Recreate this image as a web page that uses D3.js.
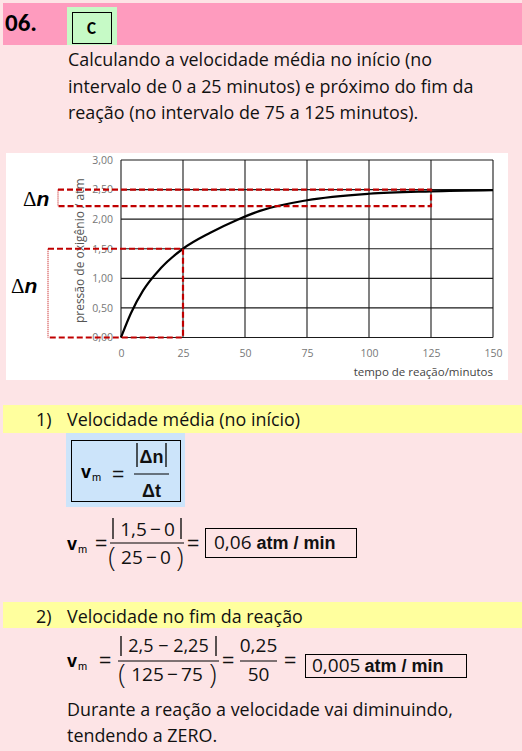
<!DOCTYPE html>
<html><head><meta charset="utf-8">
<script src="https://cdn.jsdelivr.net/npm/d3@7"></script>
<style>
html,body{margin:0;padding:0;background:#fde4e6;}
svg{display:block;}
</style></head>
<body>
<svg id="c" width="522" height="751"></svg>
<script>
// ---- data ----
const timeMinutes = [0, 4, 9, 16, 25, 36, 47, 56, 75, 100, 125, 150];
const pressureAtm = [0, 0.41, 0.80, 1.17, 1.50, 1.77, 1.99, 2.14, 2.32, 2.43, 2.47, 2.49];
const xTicks = [0, 25, 50, 75, 100, 125, 150];
const yTicks = [0, 0.5, 1.0, 1.5, 2.0, 2.5, 3.0];
const intervalStart = [0, 25];       // t range (início)
const intervalStartP = [0, 1.5];     // pressure range (início)
const intervalEnd = [75, 125];       // t range (fim)
const intervalEndP = [2.22, 2.5];    // pressure range (fim)
const introLines = ["Calculando a velocidade média no início (no",
  "intervalo de 0 a 25 minutos) e próximo do fim da",
  "reação (no intervalo de 75 a 125 minutos)."];
const closingLines = ["Durante a reação a velocidade vai diminuindo,", "tendendo a ZERO."];

const svg = d3.select("#c");
const HEAD = "Carlito, Calibri, Lato, sans-serif";
const TXT = "'Open Sans', 'Noto Sans', sans-serif";
const ARI = "'Liberation Sans', Arial, sans-serif";
const CH = "'Open Sans', 'Segoe UI', 'Noto Sans', sans-serif";
const FS = 17.9;
const T = "\u2009";

// background
svg.append("rect").attr("width",522).attr("height",751).attr("fill","#fde4e6");
// header
svg.append("rect").attr("x",3).attr("y",3).attr("width",519).attr("height",42).attr("fill","#fe9bbe");
svg.append("text").attr("x",5).attr("y",31).attr("font-family",HEAD).attr("font-weight","bold")
  .attr("font-size",25).attr("fill","#000").text("06.");
svg.append("rect").attr("x",67).attr("y",7).attr("width",50).attr("height",38).attr("fill","#c6fac6");
svg.append("rect").attr("x",72.5).attr("y",12.5).attr("width",39).attr("height",31).attr("fill","none").attr("stroke","#000").attr("stroke-width",1);
svg.append("text").attr("x",91.5).attr("y",34).attr("text-anchor","middle").attr("font-family",HEAD).attr("font-weight","bold")
  .attr("font-size",17).text("C");

// intro
svg.append("g").selectAll("text").data(introLines).join("text")
  .attr("x",68).attr("y",(d,i)=>66+i*26.5).attr("font-family",TXT).attr("font-size",FS).attr("fill","#111").text(d=>d);

// chart panel
svg.append("rect").attr("x",6).attr("y",153).attr("width",502).attr("height",227).attr("fill","#fff");

const x = d3.scaleLinear().domain([0,150]).range([121,493]);
const y = d3.scaleLinear().domain([0,3]).range([337.5,160]);
const fmt = d3.formatLocale({decimal:",",thousands:".",grouping:[3],currency:["",""]}).format(".2f");

const grid = svg.append("g").attr("stroke","#1a1a1a").attr("stroke-width",1.1);
grid.selectAll(".v").data(xTicks).join("line").attr("x1",d=>x(d)).attr("x2",d=>x(d)).attr("y1",y(3)).attr("y2",y(0));
grid.selectAll(".h").data(yTicks).join("line").attr("y1",d=>y(d)).attr("y2",d=>y(d)).attr("x1",x(0)).attr("x2",x(150));

const ax = svg.append("g").attr("transform",`translate(0,${y(0)})`)
  .call(d3.axisBottom(x).tickValues(xTicks).tickSize(0).tickPadding(12).tickFormat(d3.format("d")));
ax.select(".domain").remove();
ax.selectAll("text").attr("font-family",CH).attr("font-size",10.5).attr("fill","#777");
const ay = svg.append("g").attr("transform",`translate(${x(0)},0)`)
  .call(d3.axisLeft(y).tickValues(yTicks).tickSize(0).tickPadding(8).tickFormat(fmt));
ay.select(".domain").remove();
ay.selectAll("text").attr("font-family",CH).attr("font-size",10.5).attr("fill","#777");

svg.append("text").attr("x",493).attr("y",376).attr("text-anchor","end").attr("font-family",CH)
  .attr("font-size",11.5).attr("fill","#444").text("tempo de reação/minutos");
svg.append("text").attr("transform",`translate(84,${(y(0)+y(3))/2+2}) rotate(-90)`).attr("text-anchor","middle")
  .attr("font-family",CH).attr("font-size",12).attr("fill","#555").text("pressão de oxigênio / atm");

// curve
const pts = timeMinutes.map((t,i)=>[t,pressureAtm[i]]);
svg.append("path").datum(pts).attr("fill","none").attr("stroke","#000").attr("stroke-width",2.2)
  .attr("d",d3.line().x(d=>x(d[0])).y(d=>y(d[1])).curve(d3.curveMonotoneX));

// red brackets
const RED = "#c00000";
function bracket(tEnd, p0, p1, leftX){
  const g = svg.append("g").attr("fill","none").attr("stroke",RED);
  g.append("path").attr("stroke-width",2.2).attr("stroke-dasharray","6,3")
    .attr("d",`M${leftX},${y(p1)}H${x(tEnd)}V${y(p0)}H${leftX}`);
  g.append("line").attr("stroke-width",1).attr("stroke-dasharray","1,1")
    .attr("x1",leftX).attr("x2",leftX).attr("y1",y(p1)).attr("y2",y(p0));
}
bracket(intervalEnd[1], intervalEndP[0], intervalEndP[1], 58);
bracket(intervalStart[1], intervalStartP[0], intervalStartP[1], 48);

function deltaN(xp, yp){
  const t = svg.append("text").attr("x",xp).attr("y",yp).attr("font-size",21);
  t.append("tspan").attr("font-family","'Liberation Serif', serif").text("Δ");
  t.append("tspan").attr("font-family",ARI).attr("font-weight","bold").attr("font-style","italic").text("n");
}
deltaN(23,206);
deltaN(11,293);

// section bars
function sectionBar(yTop, h, num, label){
  svg.append("rect").attr("x",3).attr("y",yTop).attr("width",519).attr("height",h).attr("fill","#ffff9e");
  svg.append("text").attr("x",36).attr("y",yTop+21).attr("font-family",TXT).attr("font-size",FS).attr("fill","#111").text(num);
  svg.append("text").attr("x",67).attr("y",yTop+21).attr("font-family",TXT).attr("font-size",FS).attr("fill","#111").text(label);
}
sectionBar(405, 28, "1)", "Velocidade média (no início)");
sectionBar(602, 26, "2)", "Velocidade no fim da reação");

// helpers for formulas
function vm(xp, yp){
  const t = svg.append("text").attr("x",xp).attr("y",yp).attr("font-family",ARI);
  t.append("tspan").attr("font-weight","bold").attr("font-size",18).text("v");
  t.append("tspan").attr("font-size",11).attr("dy",3).attr("dx",1).text("m");
}
function txt(xp, yp, s, opt={}){
  return svg.append("text").attr("x",xp).attr("y",yp).attr("font-family",opt.f||TXT)
    .attr("font-size",opt.s||19).attr("font-weight",opt.w||"normal").attr("text-anchor",opt.a||"start").attr("fill","#111").text(s);
}
function hline(x1,x2,yy){ svg.append("line").attr("x1",x1).attr("x2",x2).attr("y1",yy).attr("y2",yy).attr("stroke","#000").attr("stroke-width",1); }
function vline(xx,y1,y2){ svg.append("line").attr("x1",xx).attr("x2",xx).attr("y1",y1).attr("y2",y2).attr("stroke","#000").attr("stroke-width",1.3); }
function box(x1,y1,w,h){ svg.append("rect").attr("x",x1+0.5).attr("y",y1+0.5).attr("width",w).attr("height",h).attr("fill","none").attr("stroke","#000").attr("stroke-width",1); }
function paren(xp, yp, s){ return txt(xp, yp, s, {f:TXT, s:27, a:"middle"}).attr("font-weight",300); }

// formula 1 (blue)
svg.append("rect").attr("x",66).attr("y",433).attr("width",119).attr("height",74).attr("fill","#cce4fa");
box(71,440,109,61);
vm(81,478);
txt(112,481,"=",{f:ARI,s:21});
hline(134,169,474);
vline(137,443,467); vline(166,443,467);
txt(151.5,463,"Δn",{f:ARI,s:18,w:"bold",a:"middle"});
txt(151.5,497,"Δt",{f:ARI,s:18,w:"bold",a:"middle"});

// formula 2
vm(67,550);
txt(95,550,"=",{f:ARI,s:21});
hline(110,184,543);
vline(113,518,539); vline(181,518,539);
txt(147.5,536,"1,5"+T+"−"+T+"0",{a:"middle"});
paren(112,567,"(");
txt(146,564,"25"+T+"−"+T+"0",{a:"middle"});
paren(180,567,")");
txt(187,550,"=",{f:ARI,s:21});
box(205,528,151,29);
const b1 = txt(214,549,"0,06",{s:19});
b1.append("tspan").attr("font-family",ARI).attr("font-weight","bold").attr("font-size",18).attr("dx",5).text("atm / min");

// formula 3
vm(67,667);
txt(99,667,"=",{f:ARI,s:21});
hline(118,219,661);
vline(121,636,656); vline(216,636,656);
txt(168.5,652,"2,5 − 2,25",{a:"middle",s:18});
paren(122,684,"(");
txt(167,681,"125"+T+"−"+T+"75",{a:"middle"});
paren(213,684,")");
txt(222,667,"=",{f:ARI,s:21});
hline(240,277,661);
txt(258.5,652,"0,25",{a:"middle"});
txt(258.5,681,"50",{a:"middle"});
txt(284,667,"=",{f:ARI,s:21});
box(305,654,161,23);
const b2 = txt(312,672,"0,005",{s:19});
b2.append("tspan").attr("font-family",ARI).attr("font-weight","bold").attr("font-size",18).attr("dx",4).text("atm / min");

// closing
svg.append("g").selectAll("text").data(closingLines).join("text")
  .attr("x",67).attr("y",(d,i)=>716+i*26).attr("font-family",TXT).attr("font-size",FS).attr("fill","#111").text(d=>d);
</script>
</body></html>
